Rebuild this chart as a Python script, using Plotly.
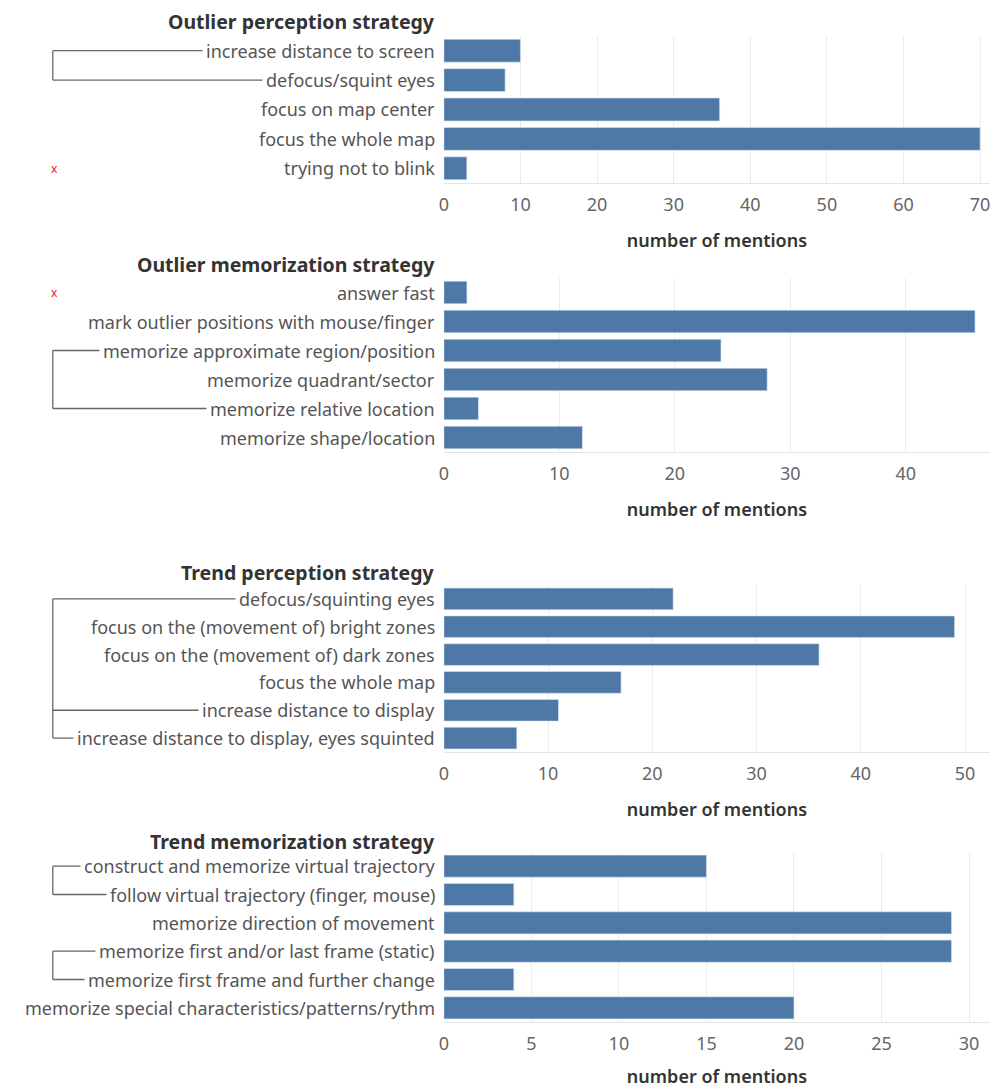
import plotly.graph_objects as go

# panel 1
op_labels = ["increase distance to screen", "defocus/squint eyes", "focus on map center",
             "focus the whole map", "trying not to blink"]
op_values = [10, 8, 36, 70, 3]

# panel 2
om_labels = ["answer fast", "mark outlier positions with mouse/finger",
             "memorize approximate region/position", "memorize quadrant/sector",
             "memorize relative location", "memorize shape/location"]
om_values = [2, 46, 24, 28, 3, 12]

# panel 3
tp_labels = ["defocus/squinting eyes", "focus on the (movement of) bright zones",
             "focus on the (movement of) dark zones", "focus the whole map",
             "increase distance to display", "increase distance to display, eyes squinted"]
tp_values = [22, 49, 36, 17, 11, 7]

# panel 4
tm_labels = ["construct and memorize virtual trajectory", "follow virtual trajectory (finger, mouse)",
             "memorize direction of movement", "memorize first and/or last frame (static)",
             "memorize first frame and further change",
             "memorize special characteristics/patterns/rythm"]
tm_values = [15, 4, 29, 29, 4, 20]

titles = ["Outlier perception strategy", "Outlier memorization strategy",
          "Trend perception strategy", "Trend memorization strategy"]
x_max = [71.3, 47.3, 52.4, 31.2]
x_dtick = [10, 10, 10, 5]

# bracket groups: (row span, rows with a tick)
brackets = [
    [([0, 1], [0, 1])],
    [([2, 4], [2, 4])],
    [([0, 5], [0, 4, 5])],
    [([0, 1], [0, 1]), ([3, 4], [3, 4])],
]
red_x = [[4], [0], [], []]

panels = [(op_labels, op_values), (om_labels, om_values),
          (tp_labels, tp_values), (tm_labels, tm_values)]

# page body has an 8px margin, so the figure is a bit smaller than the window
OFF = 8
W, H = 1004 - OFF, 1088 - OFF


def px(x):
    return (x - OFF) / W


def py(y):
    return 1 - (y - OFF) / H


# pixel extents of each plot area (top, bottom) in window pixels
areas = [(36, 183), (278, 452), (585, 752), (852, 1022)]
title_y = [22, 264, 572, 841]
x_left, x_right = 441, 990
FONT = "Noto Sans"
BLUE = "#4e79a7"
LINE = "#666666"

fig = go.Figure()
shapes = []
annotations = []

for i, (labels, values) in enumerate(panels):
    n = i + 1
    xa = "x" if n == 1 else "x%d" % n
    ya = "y" if n == 1 else "y%d" % n
    fig.add_trace(go.Bar(x=values, y=labels, orientation="h", width=0.78,
                         marker=dict(color=BLUE, line=dict(color="#dfe8f1", width=0.6)),
                         xaxis=xa, yaxis=ya, showlegend=False,
                         hovertemplate="%{y}: %{x}<extra></extra>"))
    top, bot = areas[i]
    key = "" if n == 1 else str(n)
    fig.update_layout(**{
        "xaxis" + key: dict(domain=[px(x_left), px(x_right)], anchor=ya,
                            range=[0, x_max[i]], dtick=x_dtick[i],
                            showgrid=True, gridcolor="#ececec", gridwidth=1,
                            zeroline=False, showline=True, linecolor="#e4e4e4",
                            ticks="", ticklabelstandoff=5,
                            tickfont=dict(family=FONT, size=18, color="#666666"),
                            title=dict(text="number of mentions", standoff=19,
                                       font=dict(family=FONT, size=18, color="#333333",
                                                 weight=600))),
        "yaxis" + key: dict(domain=[py(bot), py(top)], anchor=xa,
                            type="category", categoryorder="array", categoryarray=labels,
                            range=[len(labels) - 0.5, -0.5], showticklabels=False,
                            showgrid=False, zeroline=False, showline=False),
    })

    # category labels on a white box so bracket lines stop before the text
    for lab in labels:
        annotations.append(dict(x=px(436), xref="paper", xanchor="right",
                                y=lab, yref=ya, yanchor="middle", text=lab,
                                showarrow=False, bgcolor="white", borderpad=3,
                                font=dict(family=FONT, size=18, color="#555555")))
    annotations.append(dict(x=px(436), xref="paper", xanchor="right",
                            y=py(title_y[i]), yref="paper", yanchor="middle",
                            text="<b>%s</b>" % titles[i], showarrow=False, borderpad=3,
                            font=dict(family=FONT, size=19.5, color="#333333")))

    for rows, ticks in brackets[i]:
        shapes.append(dict(type="line", xref="paper", yref=ya,
                           x0=px(48), x1=px(48), y0=rows[0], y1=rows[1],
                           line=dict(color=LINE, width=1.3), layer="below"))
        for r in ticks:
            shapes.append(dict(type="line", xref="paper", yref=ya,
                               x0=px(48), x1=px(430), y0=r, y1=r,
                               line=dict(color=LINE, width=1.3), layer="below"))
    for r in red_x[i]:
        annotations.append(dict(x=px(50), xref="paper", xanchor="center",
                                y=labels[r], yref=ya, text="x", showarrow=False,
                                font=dict(family=FONT, size=12, color="#e8181f")))

fig.update_layout(width=W, height=H, margin=dict(l=0, r=0, t=0, b=0),
                  plot_bgcolor="white", paper_bgcolor="white",
                  bargap=0.2, shapes=shapes, annotations=annotations,
                  font=dict(family=FONT))

fig.write_html("out.html")
